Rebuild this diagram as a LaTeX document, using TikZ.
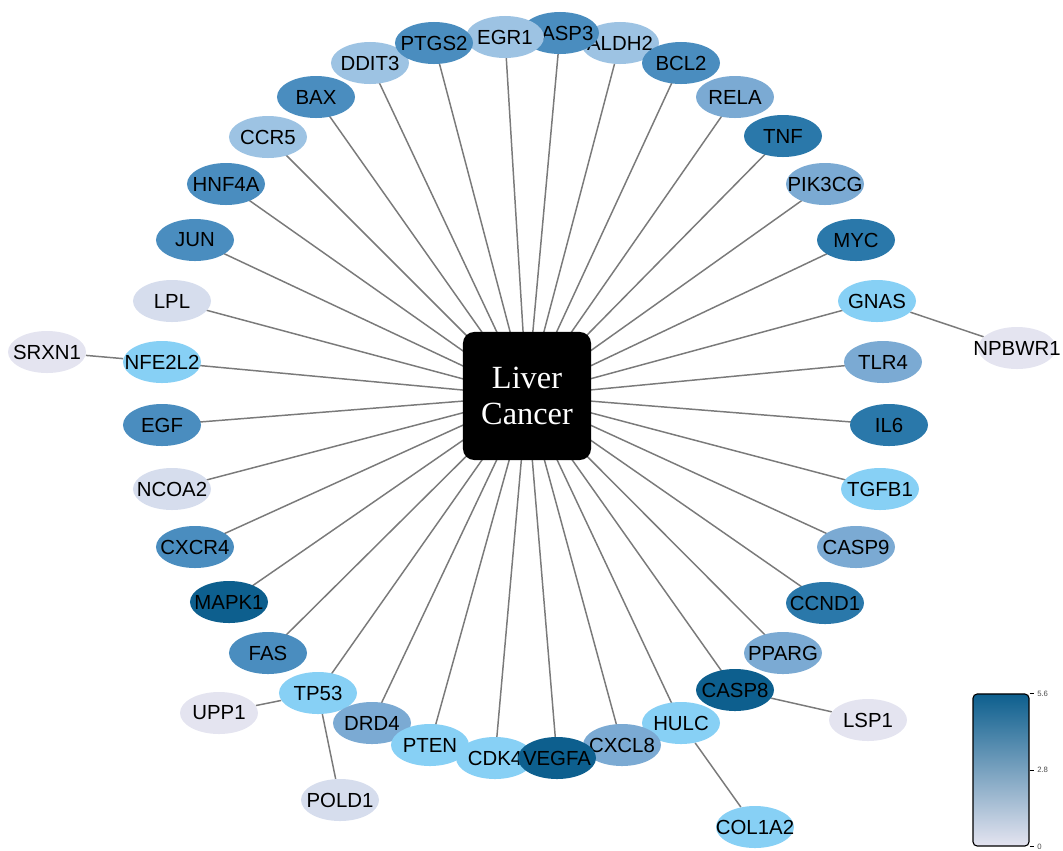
\documentclass[tikz,border=0pt]{standalone}
\usepackage{fontspec}
\setmainfont{Liberation Serif}
\newfontfamily\genefont{Liberation Sans}
\usetikzlibrary{shapes.geometric, backgrounds}
\definecolor{gdark}{HTML}{0D5F8E}
\definecolor{gdeep}{HTML}{2A78AA}
\definecolor{gmid}{HTML}{4A8DBF}
\definecolor{gsoft}{HTML}{7BAAD3}
\definecolor{glight}{HTML}{9DC3E3}
\definecolor{gsky}{HTML}{87D0F5}
\definecolor{gpale}{HTML}{D6DDED}
\definecolor{glav}{HTML}{E4E4F0}
\definecolor{edgegray}{HTML}{7A7A7A}

\begin{document}
\begin{tikzpicture}[x=0.025cm, y=-0.025cm,
        gene/.style={ellipse, minimum width=1.95cm, minimum height=1.05cm,
                     inner xsep=-16pt, inner ysep=0pt,
                     font=\genefont\fontsize{14.5}{14.5}\selectfont, text=black},
        dark/.style={gene, fill=gdark},
        deep/.style={gene, fill=gdeep},
        mid/.style={gene, fill=gmid},
        soft/.style={gene, fill=gsoft},
        light/.style={gene, fill=glight},
        sky/.style={gene, fill=gsky},
        pale/.style={gene, fill=gpale},
        lav/.style={gene, fill=glav},
        hub/.style={rectangle, rounded corners=8pt, fill=black, text=white,
                    minimum width=3.2cm, minimum height=3.2cm, align=center,
                    font=\fontsize{23}{25}\selectfont},
        edge/.style={draw=edgegray, line width=1.05pt},
      ]
        \useasboundingbox (0,0) rectangle (1063,850);
        % hub
        \node[hub] (lc) at (527,396) {Liver\\Cancer};
        % top arc
        \node[soft]  (rela)   at (735,97)  {RELA};
        \node[light] (aldh2)  at (620,43)  {ALDH2};
        \node[mid]   (bcl2)   at (681,63)  {BCL2};
        \node[mid]   (casp3)  at (560,33)  {CASP3};
        \node[light] (egr1)   at (505,37)  {EGR1};
        \node[light] (ddit3)  at (370,63)  {DDIT3};
        \node[mid]   (ptgs2)  at (434,43)  {PTGS2};
        \node[mid]   (bax)    at (316,97)  {BAX};
        \node[light] (ccr5)   at (268,137) {CCR5};
        \node[deep]  (tnf)    at (783,136) {TNF};
        % left side
        \node[mid]   (hnf4a)  at (226,184) {HNF4A};
        \node[mid]   (jun)    at (195,240) {JUN};
        \node[pale]  (lpl)    at (172,301) {LPL};
        \node[sky]   (nfe2l2) at (162,362) {NFE2L2};
        \node[lav]   (srxn1)  at (47,352)  {SRXN1};
        \node[mid]   (egf)    at (162,425) {EGF};
        \node[pale]  (ncoa2)  at (172,489) {NCOA2};
        \node[mid]   (cxcr4)  at (195,547) {CXCR4};
        \node[dark]  (mapk1)  at (229,602) {MAPK1};
        \node[mid]   (fas)    at (268,653) {FAS};
        \node[lav]   (upp1)   at (219,713) {UPP1};
        \node[pale]  (pold1)  at (340,800) {POLD1};
        % right side
        \node[soft]  (pik3cg) at (825,184) {PIK3CG};
        \node[deep]  (myc)    at (856,240) {MYC};
        \node[sky]   (gnas)   at (877,301) {GNAS};
        \node[lav]   (npbwr1) at (1017,348) {NPBWR1};
        \node[soft]  (tlr4)   at (883,362) {TLR4};
        \node[deep]  (il6)    at (889,425) {IL6};
        \node[sky]   (tgfb1)  at (880,489) {TGFB1};
        \node[soft]  (casp9)  at (856,547) {CASP9};
        \node[deep]  (ccnd1)  at (825,603) {CCND1};
        \node[soft]  (pparg)  at (783,653) {PPARG};
        \node[lav]   (lsp1)   at (868,720) {LSP1};
        \node[sky]   (col1a2) at (755,827) {COL1A2};
        % bottom arc
        \node[dark]  (casp8)  at (735,690) {CASP8};
        \node[sky]   (hulc)   at (681,723) {HULC};
        \node[sky]   (tp53)   at (318,693) {TP53};
        \node[soft]  (drd4)   at (372,723) {DRD4};
        \node[sky]   (pten)   at (430,745) {PTEN};
        \node[soft]  (cxcl8)  at (622,745) {CXCL8};
        \node[sky]   (cdk4)   at (495,758) {CDK4};
        \node[dark]  (vegfa)  at (557,758) {VEGFA};
        % links
        \begin{pgfonlayer}{background}
          \draw[edge] (lc.center) -- (rela.center);   \draw[edge] (lc.center) -- (aldh2.center);
          \draw[edge] (lc.center) -- (bcl2.center);   \draw[edge] (lc.center) -- (casp3.center);
          \draw[edge] (lc.center) -- (egr1.center);   \draw[edge] (lc.center) -- (ddit3.center);
          \draw[edge] (lc.center) -- (ptgs2.center);  \draw[edge] (lc.center) -- (bax.center);
          \draw[edge] (lc.center) -- (ccr5.center);   \draw[edge] (lc.center) -- (tnf.center);
          \draw[edge] (lc.center) -- (hnf4a.center);  \draw[edge] (lc.center) -- (jun.center);
          \draw[edge] (lc.center) -- (lpl.center);    \draw[edge] (lc.center) -- (nfe2l2.center);
          \draw[edge] (lc.center) -- (egf.center);    \draw[edge] (lc.center) -- (ncoa2.center);
          \draw[edge] (lc.center) -- (cxcr4.center);  \draw[edge] (lc.center) -- (mapk1.center);
          \draw[edge] (lc.center) -- (fas.center);    \draw[edge] (lc.center) -- (pik3cg.center);
          \draw[edge] (lc.center) -- (myc.center);    \draw[edge] (lc.center) -- (gnas.center);
          \draw[edge] (lc.center) -- (tlr4.center);   \draw[edge] (lc.center) -- (il6.center);
          \draw[edge] (lc.center) -- (tgfb1.center);  \draw[edge] (lc.center) -- (casp9.center);
          \draw[edge] (lc.center) -- (ccnd1.center);  \draw[edge] (lc.center) -- (pparg.center);
          \draw[edge] (lc.center) -- (casp8.center);  \draw[edge] (lc.center) -- (hulc.center);
          \draw[edge] (lc.center) -- (tp53.center);   \draw[edge] (lc.center) -- (drd4.center);
          \draw[edge] (lc.center) -- (pten.center);   \draw[edge] (lc.center) -- (cxcl8.center);
          \draw[edge] (lc.center) -- (cdk4.center);   \draw[edge] (lc.center) -- (vegfa.center);
          % second ring
          \draw[edge] (srxn1) -- (nfe2l2);
          \draw[edge] (gnas) -- (npbwr1);
          \draw[edge] (tp53) -- (upp1);
          \draw[edge] (tp53) -- (pold1);
          \draw[edge] (casp8) -- (lsp1);
          \draw[edge] (hulc) -- (col1a2);
        \end{pgfonlayer}
        % colour scale
        \node[draw=black, line width=0.8pt, rounded corners=3pt, inner sep=0pt,
              minimum width=1.4cm, minimum height=3.8cm,
              top color=gdark, bottom color=glav] (scale) at (1001,770) {};
        \coordinate (thi) at (scale.north east);
        \coordinate (tmd) at (scale.east);
        \coordinate (tlo) at (scale.south east);
        \draw[line width=0.6pt] (thi) -- ++(4,0) node[right=-1pt, font=\genefont\fontsize{5.5}{5.5}\selectfont, text=black!70] (lhi) {5.6};
        \draw[line width=0.6pt] (tmd) -- ++(4,0) node[right=-1pt, font=\genefont\fontsize{5.5}{5.5}\selectfont, text=black!70] (lmd) {2.8};
        \draw[line width=0.6pt] (tlo) -- ++(4,0) node[right=-1pt, font=\genefont\fontsize{5.5}{5.5}\selectfont, text=black!70] (llo) {0};
      \end{tikzpicture}
\end{document}
